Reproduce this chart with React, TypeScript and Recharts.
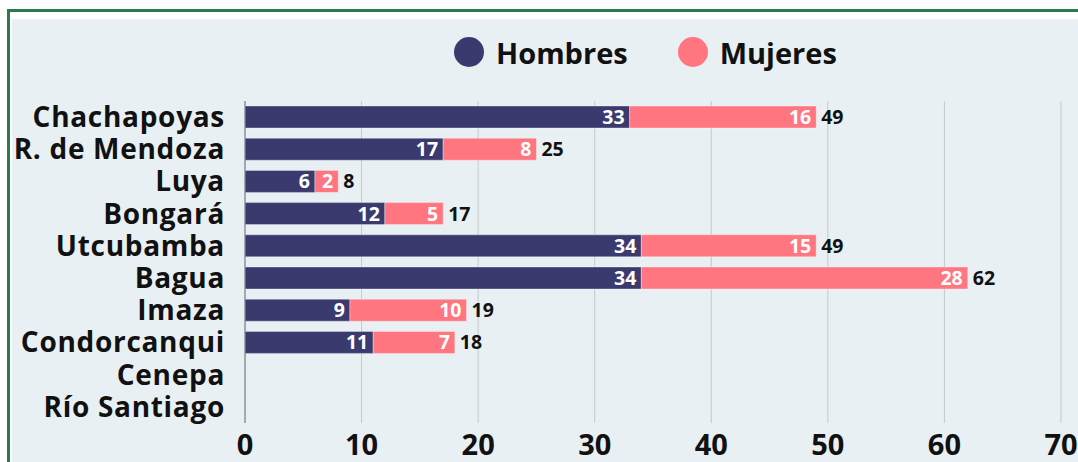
import { Bar, BarChart, CartesianGrid, LabelList, XAxis, YAxis } from "recharts";

const provincias = [
  "Chachapoyas",
  "R. de Mendoza",
  "Luya",
  "Bongará",
  "Utcubamba",
  "Bagua",
  "Imaza",
  "Condorcanqui",
  "Cenepa",
  "Río Santiago",
];
const hombres = [33, 17, 6, 12, 34, 34, 9, 11, null, null];
const mujeres = [16, 8, 2, 5, 15, 28, 10, 7, null, null];
const totales = [49, 25, 8, 17, 49, 62, 19, 18, null, null];
const xTicks = [0, 10, 20, 30, 40, 50, 60, 70];

const HOMBRES_COLOR = "#3b3a6e";
const MUJERES_COLOR = "#ff7580";
const FONT = "'Open Sans', sans-serif";

const data = provincias.map((name, i) => ({
  name,
  hombres: hombres[i],
  mujeres: mujeres[i],
  total: totales[i],
}));

const fmt = (v: unknown) => (v === null || v === undefined ? "" : String(v));

function LegendItem({ color, label, gap }: { color: string; label: string; gap: number }) {
  return (
    <div style={{ display: "flex", alignItems: "center", marginRight: gap }}>
      <span
        style={{
          width: 30,
          height: 30,
          borderRadius: "50%",
          background: color,
          display: "inline-block",
          marginRight: 12,
        }}
      />
      <span style={{ fontSize: 29, fontWeight: 700, color: "#111" }}>{label}</span>
    </div>
  );
}

export default function App() {
  return (
    <div
      style={{
        position: "fixed",
        left: 0,
        top: 0,
        width: 1078,
        height: 462,
        overflow: "hidden",
        background: "#fff",
        fontFamily: FONT,
      }}
    >
      <div
        style={{
          position: "absolute",
          left: 7,
          top: 9,
          width: 1200,
          height: 600,
          border: "3px solid #2a7a50",
          background: "#fff",
        }}
      />
      <div
        style={{
          position: "absolute",
          left: 12,
          top: 19,
          width: 1066,
          height: 443,
          background: "#e8f0f3",
        }}
      >
        <div
          style={{
            position: "absolute",
            left: 442,
            top: 18,
            display: "flex",
            alignItems: "center",
            height: 30,
          }}
        >
          <LegendItem color={HOMBRES_COLOR} label="Hombres" gap={50} />
          <LegendItem color={MUJERES_COLOR} label="Mujeres" gap={0} />
        </div>
        <BarChart
          width={1066}
          height={443}
          data={data}
          layout="vertical"
          margin={{ top: 82, right: 17, bottom: 0, left: 0 }}
          barSize={22}
        >
          <CartesianGrid horizontal={false} stroke="#c4c9cd" strokeWidth={1} />
          <XAxis
            type="number"
            domain={[0, 70]}
            ticks={xTicks}
            axisLine={false}
            tickLine={false}
            tickSize={0}
            tickMargin={11}
            height={39}
            tick={{ fontSize: 29, fontWeight: 700, fill: "#111", fontFamily: FONT }}
          />
          <YAxis
            type="category"
            dataKey="name"
            width={233}
            tickLine={false}
            tickSize={0}
            tickMargin={20}
            axisLine={{ stroke: "#777", strokeWidth: 1 }}
            interval={0}
            tick={{
              fontSize: 28,
              fontWeight: 700,
              fill: "#111",
              fontFamily: FONT,
              letterSpacing: 0.7,
            }}
          />
          <Bar
            dataKey="hombres"
            stackId="a"
            fill={HOMBRES_COLOR}
            stroke="#ffffff"
            strokeOpacity={0.35}
            strokeWidth={1}
            isAnimationActive={false}
          >
            <LabelList
              dataKey="hombres"
              position="insideRight"
              formatter={fmt}
              style={{ fill: "#fff", fontSize: 19.5, fontWeight: 700, fontFamily: FONT }}
            />
          </Bar>
          <Bar
            dataKey="mujeres"
            stackId="a"
            fill={MUJERES_COLOR}
            stroke="#ffffff"
            strokeOpacity={0.35}
            strokeWidth={1}
            isAnimationActive={false}
          >
            <LabelList
              dataKey="mujeres"
              position="insideRight"
              formatter={fmt}
              style={{ fill: "#fff", fontSize: 19.5, fontWeight: 700, fontFamily: FONT }}
            />
            <LabelList
              dataKey="total"
              position="right"
              formatter={fmt}
              style={{ fill: "#111", fontSize: 19.5, fontWeight: 700, fontFamily: FONT }}
            />
          </Bar>
        </BarChart>
      </div>
    </div>
  );
}
